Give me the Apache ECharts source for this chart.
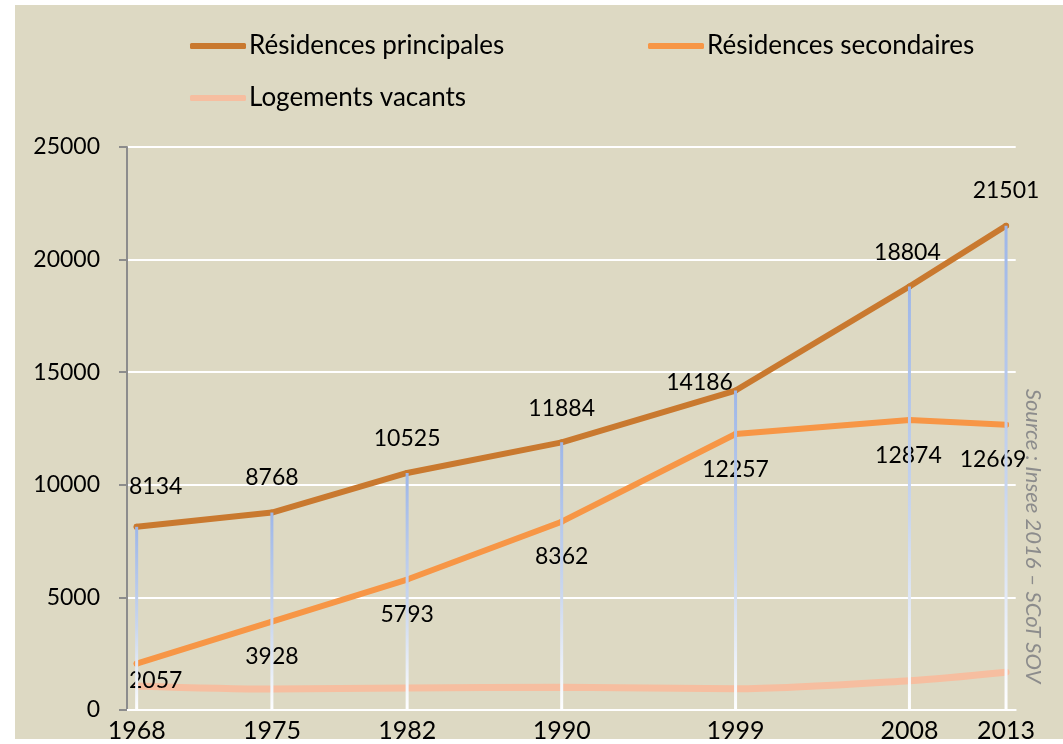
<!DOCTYPE html>
<html>
<head>
<meta charset="utf-8">
<script src="https://cdn.jsdelivr.net/npm/echarts@6/dist/echarts.min.js"></script>
<style>
  html, body { margin: 0; padding: 0; background: #ffffff; }
  #bg { position: absolute; left: 15px; top: 5px; width: 1048px; height: 734px; background: #ddd9c3; }
  #chart { position: absolute; left: 0; top: 0; width: 1063px; height: 744px; }
  #cut { position: absolute; left: 0; top: 739px; width: 1063px; height: 5px; background: #ffffff; }
</style>
</head>
<body>
<div id="bg"></div>
<div id="chart"></div>
<div id="cut"></div>
<script>
// ---- data ----
const years = [1968, 1975, 1982, 1990, 1999, 2008, 2013];
const residencesPrincipales = [8134, 8768, 10525, 11884, 14186, 18804, 21501];
const residencesSecondaires = [2057, 3928, 5793, 8362, 12257, 12874, 12669];
const logementsVacants = [1070, 930, 980, 1010, 940, 1300, 1680];
const yTicks = [0, 5000, 10000, 15000, 20000, 25000];
const seriesNames = ['Résidences principales', 'Résidences secondaires', 'Logements vacants'];
const sourceText = 'Source : Insee 2016 – SCoT SOV';

// ---- label placement (styling) ----
const principalLabelOffsets = [[19, -40], [0, -35], [0, -34], [0, -34], [-36, -8], [-2, -34], [0, -35]];
const secondaireLabelOffsets = [[19, 17], [0, 35], [0, 35], [0, 35], [0, 36], [-1, 36], [-13, 35]];

const FONT = 'Lato';
const colPrincipal = '#c9792f';
const colSecondaire = '#f79646';
const colVacant = '#f6bea0';

function pairs(vals, offsets) {
  return years.map((y, i) => {
    const d = { value: [y, vals[i]] };
    if (offsets) d.label = { offset: offsets[i] };
    return d;
  });
}

const chart = echarts.init(document.getElementById('chart'), null, { renderer: 'canvas' });

const legendBase = {
  orient: 'horizontal',
  padding: 0,
  itemWidth: 56,
  itemHeight: 6,
  itemGap: 5,
  icon: 'roundRect',
  selectedMode: false,
  textStyle: { fontFamily: FONT, fontSize: 26, color: '#000000', padding: [0, 0, 0, -2] }
};

const option = {
  backgroundColor: 'transparent',
  animation: false,
  textStyle: { fontFamily: FONT },
  legend: [
    Object.assign({}, legendBase, { data: [seriesNames[0]], left: 190, top: 33 }),
    Object.assign({}, legendBase, { data: [seriesNames[1]], left: 648, top: 33 }),
    Object.assign({}, legendBase, { data: [seriesNames[2]], left: 190, top: 85 })
  ],
  grid: { left: 127, right: 47.3, top: 147, bottom: 34, containLabel: false, outerBoundsMode: 'none' },
  xAxis: {
    type: 'value',
    min: 1967.5,
    max: 2013.5,
    axisLine: { show: true, lineStyle: { color: '#ffffff', width: 2 } },
    axisTick: { show: false },
    splitLine: { show: false },
    axisLabel: {
      customValues: years,
      formatter: v => String(v),
      fontFamily: FONT,
      fontSize: 25,
      color: '#000000',
      margin: 8
    }
  },
  yAxis: {
    type: 'value',
    min: 0,
    max: 25000,
    interval: 5000,
    axisLine: { show: true, lineStyle: { color: '#8c8c8c', width: 2 } },
    axisTick: { show: true, inside: false, length: 8, lineStyle: { color: '#8c8c8c', width: 2 } },
    splitLine: { show: true, lineStyle: { color: '#ffffff', width: 2 } },
    axisLabel: {
      fontFamily: FONT,
      fontSize: 23,
      color: '#000000',
      margin: 27,
      formatter: v => (yTicks.indexOf(v) >= 0 ? String(v) : '')
    }
  },
  series: [
    {
      name: seriesNames[2],
      type: 'line',
      data: pairs(logementsVacants),
      smooth: 0.3,
      symbol: 'none',
      lineStyle: { color: colVacant, width: 7, cap: 'round' },
      itemStyle: { color: colVacant },
      z: 2
    },
    {
      name: seriesNames[1],
      type: 'line',
      data: pairs(residencesSecondaires, secondaireLabelOffsets),
      symbol: 'circle',
      symbolSize: 6,
      lineStyle: { color: colSecondaire, width: 6, cap: 'round' },
      itemStyle: { color: colSecondaire },
      label: {
        show: true,
        position: 'inside',
        formatter: p => String(p.value[1]),
        fontFamily: FONT,
        fontSize: 23,
        color: '#000000'
      },
      z: 3
    },
    {
      name: seriesNames[0],
      type: 'line',
      data: pairs(residencesPrincipales, principalLabelOffsets),
      symbol: 'circle',
      symbolSize: 6,
      lineStyle: { color: colPrincipal, width: 6, cap: 'round' },
      itemStyle: { color: colPrincipal },
      label: {
        show: true,
        position: 'inside',
        formatter: p => String(p.value[1]),
        fontFamily: FONT,
        fontSize: 23,
        color: '#000000'
      },
      z: 4
    },
    {
      name: 'dropLines',
      type: 'custom',
      data: years.map((y, i) => [y, residencesPrincipales[i]]),
      encode: { x: 0, y: 1 },
      silent: true,
      z: 5,
      renderItem: function (params, api) {
        const top = api.coord([api.value(0), api.value(1)]);
        const bottom = api.coord([api.value(0), 0]);
        return {
          type: 'line',
          shape: { x1: top[0], y1: top[1], x2: bottom[0], y2: bottom[1] },
          style: {
            lineWidth: 3,
            stroke: new echarts.graphic.LinearGradient(0, 0, 0, 1, [
              { offset: 0, color: '#9db6e8' },
              { offset: 0.55, color: '#c9d6ee' },
              { offset: 1, color: '#ffffff' }
            ])
          }
        };
      }
    }
  ],
  graphic: [
    {
      type: 'text',
      x: 1033,
      y: 536,
      rotation: -Math.PI / 2,
      style: {
        text: sourceText,
        fontFamily: FONT,
        fontStyle: 'italic',
        fontSize: 22,
        fill: '#8c8c8c',
        align: 'center',
        verticalAlign: 'middle'
      },
      z: 10
    }
  ]
};

chart.setOption(option);
</script>
</body>
</html>
